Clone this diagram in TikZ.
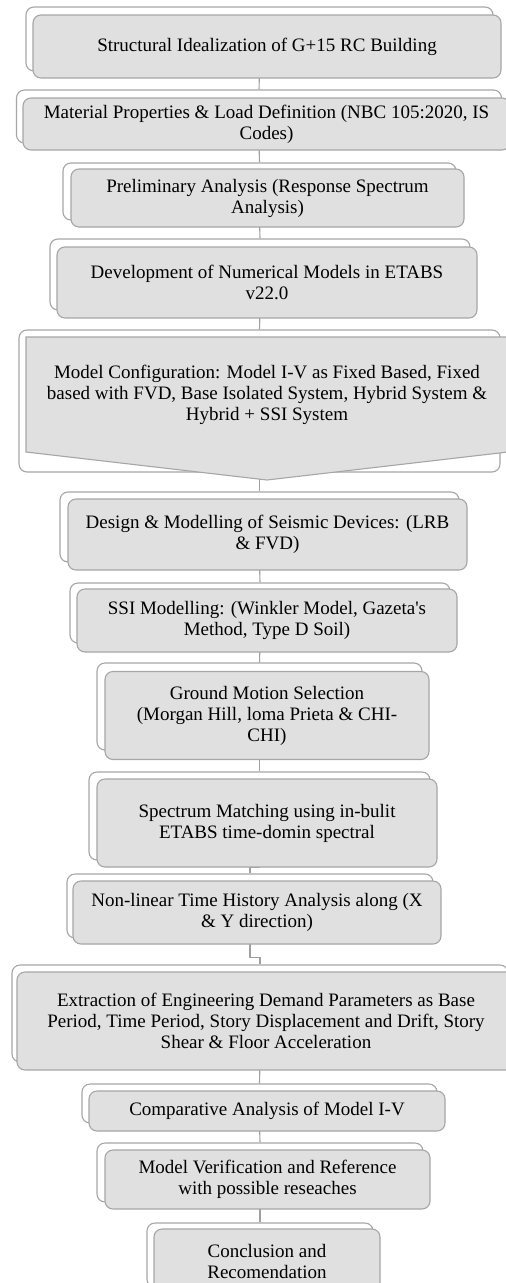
\documentclass[tikz,border=0pt]{standalone}
\usepackage{fontspec}
\setmainfont{Liberation Serif}
\usetikzlibrary{backgrounds,calc}
\definecolor{boxgray}{HTML}{E0E0E0}
\definecolor{edgegray}{HTML}{A6A6A6}
\definecolor{linegray}{HTML}{A0A0A0}
\begin{document}
\begin{tikzpicture}[x=1pt,y=1pt,
  backbox/.style 2 args={draw=edgegray, fill=white, line width=1.1pt, rounded corners=8pt,
    minimum width=#1, minimum height=#2, inner sep=0pt},
  frontbox/.style 2 args={draw=edgegray, fill=boxgray, line width=1.1pt, rounded corners=8pt,
    minimum width=#1, minimum height=#2, inner sep=0pt, align=center,
    font=\fontsize{19}{21}\selectfont},
  textonly/.style={inner sep=0pt, align=center, font=\fontsize{19}{21}\selectfont},
  pentagonbox/.style={draw=edgegray, fill=boxgray, line width=1.1pt},
  link/.style={draw=linegray, line width=1.1pt}
]
\useasboundingbox (0,0) rectangle (506,-1283);

% 1
\node[backbox={467}{64}] (b1) at (259.5,-39) {};
\node[frontbox={468}{63}] (f1) at (267,-46.5) {Structural Idealization of G+15 RC Building};
% 2
\node[backbox={485}{53}] (b2) at (259,-116.5) {};
\node[frontbox={487}{52}] (f2) at (266.5,-124) {Material Properties \& Load Definition (NBC 105:2020, IS\\Codes)};
% 3
\node[backbox={393}{57}] (b3) at (259.5,-191.5) {};
\node[frontbox={393}{58}] (f3) at (267.5,-198) {Preliminary Analysis (Response Spectrum\\Analysis)};
% 4
\node[backbox={420}{71}] (b4) at (260,-274.5) {};
\node[frontbox={420}{71}] (f4) at (267,-282.5) {Development of Numerical Models in ETABS\\v22.0};
% 5
\node[backbox={481}{142}] (b5) at (259.5,-401) {};
\coordinate (p5) at (267,-394.5);
\draw[pentagonbox] ($(p5)+(-241,57.5)$) -- ($(p5)+(241,57.5)$) -- ($(p5)+(241,-57.5)$)
  -- ($(p5)+(0,-85.5)$) -- ($(p5)+(-241,-57.5)$) -- cycle;
\node[textonly] (f5) at (p5) {Model Configuration: Model I-V as Fixed Based, Fixed\\based with FVD, Base Isolated System, Hybrid System \&\\Hybrid + SSI System};
% 6
\node[backbox={399}{70}] (b6) at (259.5,-527) {};
\node[frontbox={399}{71}] (f6) at (267.5,-534.5) {Design \& Modelling of Seismic Devices: (LRB\\\& FVD)};
% 7
\node[backbox={380}{60}] (b7) at (260,-613) {};
\node[frontbox={380}{63}] (f7) at (267,-620.5) {SSI Modelling: (Winkler Model, Gazeta\textquotesingle s\\Method, Type D Soil)};
% 8
\node[backbox={325}{87}] (b8) at (259.5,-706.5) {};
\node[frontbox={324}{88}] (f8) at (267,-715.5) {Ground Motion Selection\\(Morgan Hill, loma Prieta \& CHI-\\CHI)};
% 9
\node[backbox={341}{88}] (b9) at (259.5,-816) {};
\node[frontbox={340}{88}] (f9) at (267,-823) {Spectrum Matching using in-bulit\\ETABS time-domin spectral};
% 10
\node[backbox={366}{64}] (b10) at (250,-906) {};
\node[frontbox={368}{63}] (f10) at (257,-912.5) {Non-linear Time History Analysis along (X\\\& Y direction)};
% 11
\node[backbox={496}{97}] (b11) at (260,-1013.5) {};
\node[frontbox={498}{98}] (f11) at (266,-1021) {Extraction of Engineering Demand Parameters as Base\\Period, Time Period, Story Displacement and Drift, Story\\Shear \& Floor Acceleration};
% 12
\node[backbox={355}{39}] (b12) at (259.5,-1103.5) {};
\node[frontbox={356}{40}] (f12) at (267,-1111) {Comparative Analysis of Model I-V};
% 13
\node[backbox={326}{59}] (b13) at (260,-1172.5) {};
\node[frontbox={325}{59}] (f13) at (267.5,-1179.5) {Model Verification and Reference\\with possible reseaches};
% 14
\node[backbox={226}{64}] (b14) at (260,-1255) {};
\node[frontbox={226}{64}] (f14) at (267,-1261) {Conclusion and\\Recomendation};

\begin{scope}[on background layer]
  \draw[link] (b1.south) -- (b2.north);
  \draw[link] (b2.south) -- (b3.north);
  \draw[link] (b3.south) -- (b4.north);
  \draw[link] (b4.south) -- (b5.north);
  \draw[link] (b5.south) -- (b6.north);
  \draw[link] (b6.south) -- (b7.north);
  \draw[link] (b7.south) -- (b8.north);
  \draw[link] (b8.south) -- (b9.north);
  \draw[link] (b9.south) -- ++(0,-7) -| (b10.north);
  \draw[link] (b10.south) -- ++(0,-19) -| (b11.north);
  \draw[link] (b11.south) -- (b12.north);
  \draw[link] (b12.south) -- (b13.north);
  \draw[link] (b13.south) -- (b14.north);
\end{scope}
\end{tikzpicture}
\end{document}
